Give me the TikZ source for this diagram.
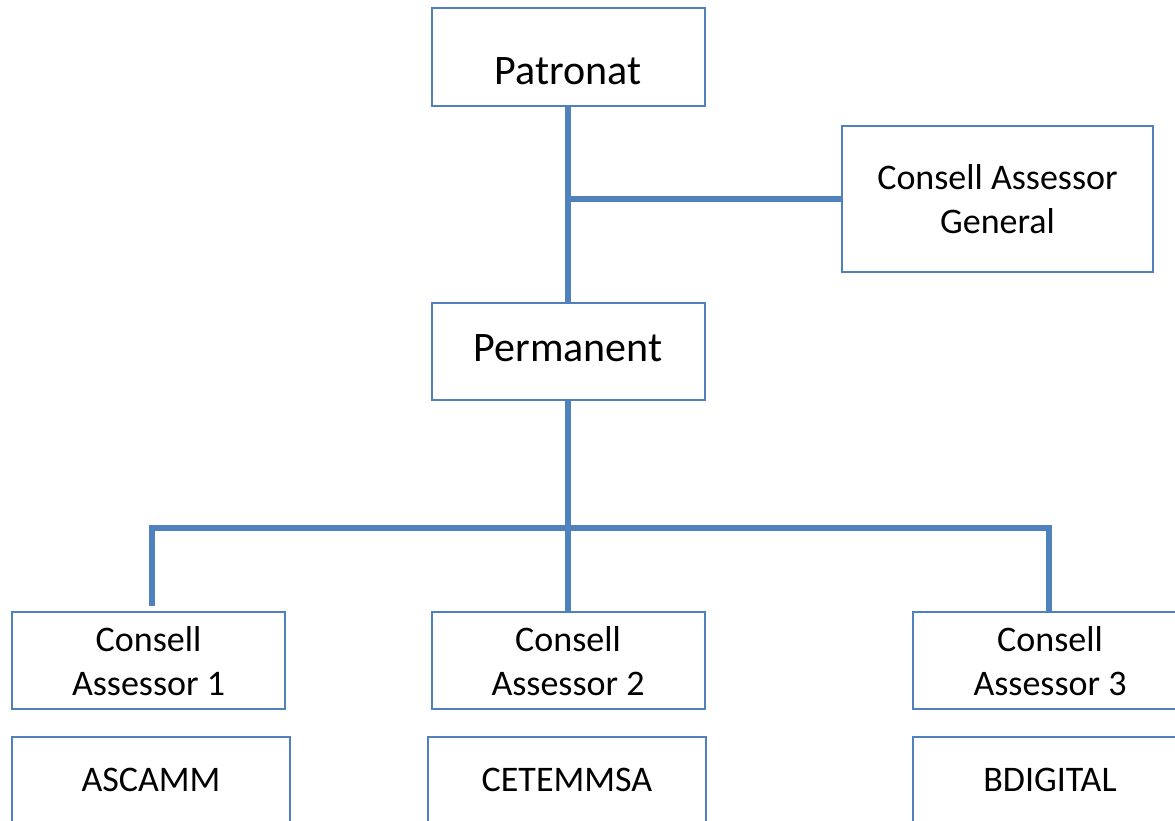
\documentclass[tikz,border=0pt]{standalone}
\usepackage{fontspec}
\setmainfont{Carlito}
\definecolor{boxblue}{HTML}{4F81BD}
\begin{document}
\begin{tikzpicture}[x=1pt,y=-1pt,
  box/.style={draw=boxblue, line width=2pt, rectangle, inner sep=0pt, outer sep=0pt, fill=white},
  big/.style={font=\fontsize{42}{50}\selectfont, align=center, inner sep=0pt},
  small/.style={font=\fontsize{36}{44.5}\selectfont, align=center, inner sep=0pt},
  conn/.style={draw=boxblue, line width=6pt}]
\useasboundingbox (0,0) rectangle (1175,821);
\clip (0,0) rectangle (1175,821);
% boxes
\node[box, minimum width=273pt, minimum height=98pt] (pat) at (568,57) {};
\node[big] (patT) at (568,71) {Patronat};
\node[box, minimum width=311pt, minimum height=146pt] (cag) at (997.5,199) {};
\node[small] (cagT) at (cag.center) {Consell Assessor\\General};
\node[box, minimum width=273pt, minimum height=97pt] (perm) at (568,351) {};
\node[big] (permT) at (568,348) {Permanent};
\node[box, minimum width=273pt, minimum height=97pt] (ca1) at (148.5,660.5) {};
\node[small] (ca1T) at (148.5,661) {Consell\\Assessor 1};
\node[box, minimum width=273pt, minimum height=97pt] (ca2) at (568,660.5) {};
\node[small] (ca2T) at (568,661) {Consell\\Assessor 2};
\node[box, minimum width=267pt, minimum height=97pt] (ca3) at (1046.5,660.5) {};
\node[small] (ca3T) at (1050,661) {Consell\\Assessor 3};
\node[box, minimum width=278pt, minimum height=86pt] (asc) at (151,780) {};
\node[small] (ascT) at (151,780) {ASCAMM};
\node[box, minimum width=278pt, minimum height=86pt] (cet) at (567,780) {};
\node[small] (cetT) at (567,780) {CETEMMSA};
\node[box, minimum width=272pt, minimum height=86pt] (bdg) at (1049,780) {};
\node[small] (bdgT) at (1050,780) {BDIGITAL};
% connectors
\coordinate (j1) at (568,199);
\coordinate (j2) at (568,528);
\coordinate (l1) at (152,606);
\coordinate (l2) at (152,528);
\coordinate (r2) at (1049,528);
\coordinate (r1) at (1049,612);
\draw[conn] (pat.south) -- (perm.north);
\draw[conn] (j1) -- (cag.west);
\draw[conn] (perm.south) -- (ca2.north);
\draw[conn] (l1) -- (l2) -- (r2) -- (r1);
\end{tikzpicture}
\end{document}
